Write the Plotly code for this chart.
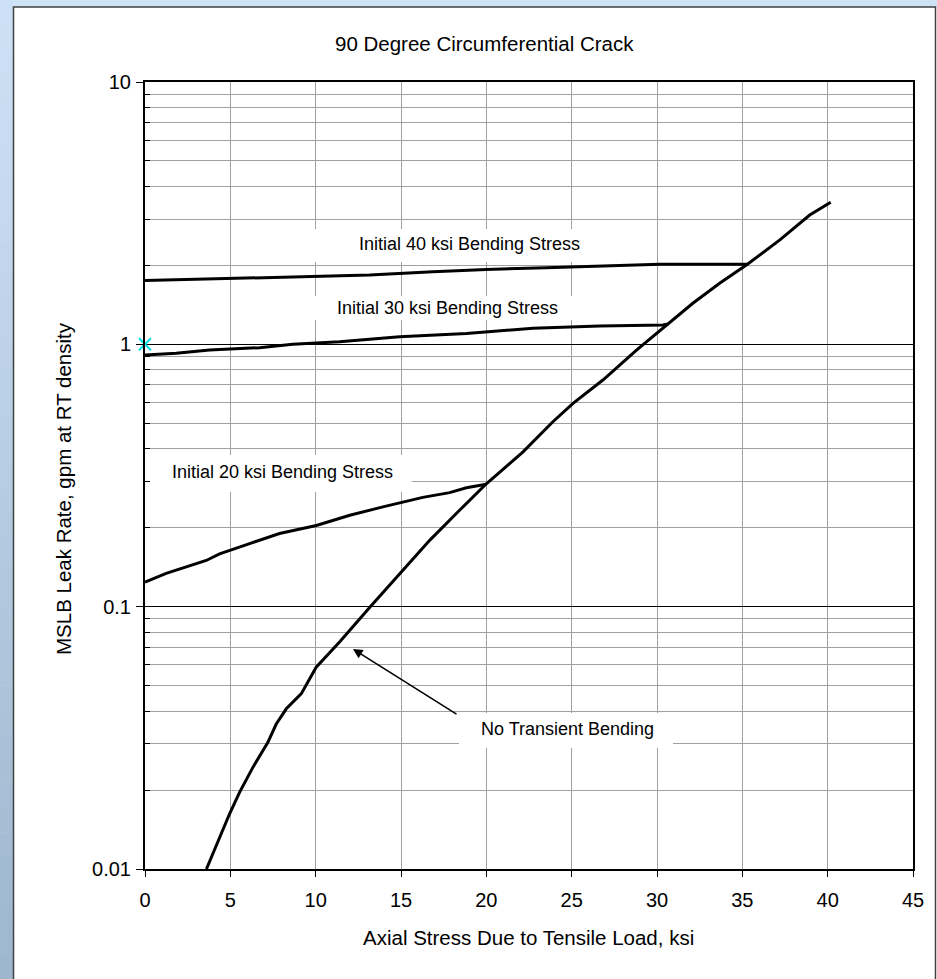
import plotly.graph_objects as go

# ---------------- data ----------------
no_transient_x = [3.6, 4.27, 4.95, 5.54, 6.32, 7.2, 7.69, 8.28, 9.16, 10.03, 11.4, 13.2,
                  14.92, 16.68, 18.43, 20.0, 22.15, 23.9, 25.08, 26.83, 28.8, 30.64,
                  32.1, 33.67, 35.3, 37.2, 38.95, 40.18]
no_transient_y = [0.0100, 0.0128, 0.0162, 0.0196, 0.0244, 0.0304, 0.0357, 0.0408, 0.0466,
                  0.0588, 0.0733, 0.1000, 0.1336, 0.179, 0.233, 0.294, 0.389, 0.507,
                  0.596, 0.731, 0.95, 1.196, 1.434, 1.71, 2.02, 2.50, 3.11, 3.48]

bend20_x = [0, 1.24, 3.59, 4.37, 6.13, 7.88, 10.04, 12.0, 13.94, 16.28, 17.85, 18.83, 20.0]
bend20_y = [0.124, 0.134, 0.150, 0.159, 0.174, 0.190, 0.204, 0.223, 0.240, 0.261, 0.272, 0.284, 0.293]

bend30_x = [0, 1.83, 3.78, 6.71, 8.66, 11.4, 14.92, 18.83, 22.73, 26.64, 30.35, 30.64]
bend30_y = [0.91, 0.925, 0.951, 0.971, 1.0, 1.023, 1.069, 1.10, 1.151, 1.175, 1.185, 1.196]

bend40_x = [0, 4.5, 9.06, 13.16, 16.87, 20.0, 23.5, 26.64, 30.16, 35.3]
bend40_y = [1.75, 1.78, 1.80, 1.837, 1.89, 1.93, 1.96, 1.99, 2.02, 2.02]

marker_x = [0]
marker_y = [1]

x_ticks = [0, 5, 10, 15, 20, 25, 30, 35, 40, 45]
y_ticks = [0.01, 0.1, 1, 10]
y_tick_labels = ["0.01", "0.1", "1", "10"]
y_minor = [m * d for d in (0.01, 0.1, 1) for m in range(2, 10)]

title_text = "90 Degree Circumferential Crack"
x_title = "Axial Stress Due to Tensile Load, ksi"
y_title = "MSLB Leak Rate, gpm at RT density"

# ---------------- layout geometry ----------------
W, H = 937, 979
ML, MR, MT, MB = 145, 24, 82, 110
PW, PH = W - ML - MR, H - MT - MB
FONT = "Liberation Sans, Arial, sans-serif"
X_RANGE = [0, 45]
Y_RANGE_LOG = [-2, 1]


def px(xp):
    return (xp - ML) / PW


def py(yp):
    return (H - MB - yp) / PH


def pix_to_x(xp):
    return X_RANGE[0] + px(xp) * (X_RANGE[1] - X_RANGE[0])


def pix_to_yval(yp):
    return 10 ** (Y_RANGE_LOG[0] + py(yp) * (Y_RANGE_LOG[1] - Y_RANGE_LOG[0]))


fig = go.Figure()

for xs, ys in [(bend40_x, bend40_y), (bend30_x, bend30_y), (bend20_x, bend20_y),
               (no_transient_x, no_transient_y)]:
    fig.add_trace(go.Scatter(x=xs, y=ys, mode="lines",
                             line=dict(color="black", width=3)))
fig.add_trace(go.Scatter(x=marker_x, y=marker_y, mode="markers", cliponaxis=False,
                         marker=dict(symbol="x-thin", size=12,
                                     line=dict(color="#00e0e8", width=2))))

shapes = []
# blue slide background: top strip and left gradient strip
shapes.append(dict(type="rect", xref="paper", yref="paper", x0=px(0), x1=px(W),
                   y0=py(7), y1=py(0), fillcolor="#cfe3f7", line=dict(width=0), layer="below"))
n = 40
top_c = (206, 226, 246)
bot_c = (158, 182, 206)
for i in range(n):
    y0p = i * H / n
    y1p = (i + 1) * H / n
    t = (i + 0.5) / n
    c = tuple(round(top_c[k] + (bot_c[k] - top_c[k]) * t) for k in range(3))
    shapes.append(dict(type="rect", xref="paper", yref="paper", x0=px(0), x1=px(13),
                       y0=py(y1p + 0.5), y1=py(y0p), fillcolor="rgb(%d,%d,%d)" % c,
                       line=dict(width=0), layer="below"))
# chart area border
shapes.append(dict(type="rect", xref="paper", yref="paper", x0=px(13.5), x1=px(935.5),
                   y0=py(H + 5), y1=py(7), fillcolor="rgba(0,0,0,0)",
                   line=dict(color="#404040", width=1.5), layer="below"))

# white boxes behind the curve labels (above grid, below curves)
label_boxes = [  # (left, top, right, bottom) in pixels
    (312, 229, 626, 262),
    (315, 296, 579, 320),
    (150, 455, 412, 492),
    (459, 713, 673, 748),
]
for (l, t, r, b) in label_boxes:
    shapes.append(dict(type="rect", xref="x", yref="y",
                       x0=pix_to_x(l), x1=pix_to_x(r),
                       y0=pix_to_yval(b), y1=pix_to_yval(t),
                       fillcolor="white", line=dict(width=0), layer="between"))


def label(text, xc, yc, size):
    return dict(text=text, x=px(xc), y=py(yc), xref="paper", yref="paper",
                xanchor="center", yanchor="middle", showarrow=False,
                font=dict(family=FONT, size=size, color="black"))


annotations = [
    label(title_text, 484, 43, 20.5),
    label(x_title, 528, 937, 20.5),
    dict(label(y_title, 63, 489, 20.5), textangle=-90),
    label("Initial 40 ksi Bending Stress", 469, 244, 18),
    label("Initial 30 ksi Bending Stress", 447, 308, 18),
    label("Initial 20 ksi Bending Stress", 282, 472, 18),
    label("No Transient Bending", 567, 729, 18),
    # arrow
    dict(text="", x=px(353), y=py(649), xref="x domain", yref="y domain",
         ax=px(458), ay=py(715), axref="x domain", ayref="y domain",
         showarrow=True, arrowhead=2, arrowsize=1.2, arrowwidth=1.6,
         arrowcolor="black", standoff=0),
]

fig.update_layout(
    width=W, height=H,
    margin=dict(l=ML, r=MR, t=MT, b=MB, pad=0),
    paper_bgcolor="white", plot_bgcolor="white",
    showlegend=False,
    shapes=shapes, annotations=annotations,
    font=dict(family=FONT, color="black"),
)
fig.update_xaxes(
    range=X_RANGE, tickvals=x_ticks, ticktext=[str(v) for v in x_ticks],
    showline=True, linecolor="black", linewidth=2, mirror=True,
    ticks="outside", ticklen=6, tickwidth=1, tickcolor="black",
    showgrid=True, gridcolor="#a0a0a0", gridwidth=1, zeroline=False,
    tickfont=dict(family=FONT, size=20, color="black"), ticklabelstandoff=6,
)
fig.update_yaxes(
    type="log", range=Y_RANGE_LOG, tickvals=y_ticks, ticktext=y_tick_labels,
    showline=True, linecolor="black", linewidth=2, mirror=True,
    ticks="outside", ticklen=7, tickwidth=1, tickcolor="black",
    showgrid=True, gridcolor="black", gridwidth=1, zeroline=False,
    tickfont=dict(family=FONT, size=20, color="black"), ticklabelstandoff=1,
    minor=dict(tickmode="array", tickvals=y_minor, ticks="inside", ticklen=5,
               tickcolor="black", showgrid=True, gridcolor="#a0a0a0", gridwidth=1),
)

fig.write_html("out.html")
